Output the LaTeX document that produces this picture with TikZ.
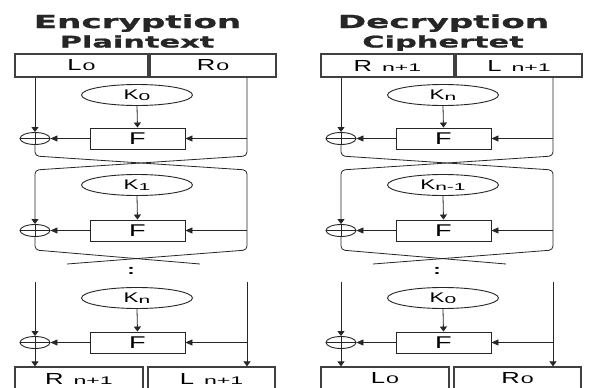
\documentclass[tikz,border=0pt]{standalone}
\usepackage{fontspec}
\usetikzlibrary{shapes.geometric,arrows.meta}
\newfontfamily\ttlfont{DejaVu Sans}[FakeStretch=1.9,FakeBold=1.2]
\newfontfamily\labfont{Liberation Sans}[FakeStretch=1.6]
\newfontfamily\subfont{Liberation Sans}[FakeStretch=2.1]
\newcommand\bxlab[3]{{\labfont\fontsize{16}{16}\selectfont #1}\hspace{#2}{\subfont\fontsize{11}{11}\selectfont #3}}
\newcommand\klab[1]{{\labfont\fontsize{14}{14}\selectfont K}{\subfont\fontsize{10}{10}\selectfont\raisebox{-1.5pt}{#1}}}
\newcommand\flab{{\labfont\fontsize{17}{17}\selectfont F}}
\tikzset{
  ln/.style={line width=0.8pt, black!85},
  blk/.style={draw=black!75, line width=1.2pt, minimum height=23pt, inner sep=0pt},
  fbx/.style={draw=black!85, line width=0.9pt, minimum width=95pt, minimum height=21pt, inner sep=0pt},
  key/.style={draw=black!85, ellipse, line width=0.9pt, minimum width=111pt, minimum height=21pt, inner sep=0pt},
  xor/.style={draw=black!85, ellipse, line width=0.9pt, minimum width=30pt, minimum height=12pt, inner sep=0pt,
    path picture={\draw[line width=0.9pt] (path picture bounding box.north) -- (path picture bounding box.south)
      (path picture bounding box.west) -- (path picture bounding box.east);}},
  va/.style={ln, -{Triangle[length=5pt,width=7pt]}},
  ha/.style={ln, -{Triangle[length=7pt,width=6pt]}},
  ttl/.style={anchor=base, text=black!85},
}
\newcommand\feistelpanel[9]{%
  \node[ttl, font=\ttlfont\bfseries\fontsize{18}{18}\selectfont] (t1) at (137.5,28) {#1};
  \node[ttl, font=\ttlfont\bfseries\fontsize{16}{16}\selectfont] (t2) at (137,47.5) {#2};
  \node[blk, minimum width=133pt] (tl) at (81.5,65.5) {#3};
  \node[blk, minimum width=126pt] (tr) at (213,65.5) {#4};
  \node[key] (k1) at (137,95) {#5};
  \node[fbx] (f1) at (137.5,138.5) {\flab};
  \node[xor] (x1) at (35,138.5) {};
  \node[key] (k2) at (137,185) {#6};
  \node[fbx] (f2) at (137.5,230.5) {\flab};
  \node[xor] (x2) at (35,230.5) {};
  \node[font=\labfont\bfseries\fontsize{14}{14}\selectfont] (dots) at (131,271) {:};
  \node[key] (k3) at (137,298) {#7};
  \node[fbx] (f3) at (137.5,342.5) {\flab};
  \node[xor] (x3) at (35,342.5) {};
  \node[blk, minimum width=128pt] (bl) at (79,378.5) {#8};
  \node[blk, minimum width=127pt] (br) at (211.5,378.5) {#9};
  \coordinate (ra) at (247,138.5);
  \coordinate (rb) at (247,230.5);
  \coordinate (rc) at (247,342.5);
  \coordinate (lt3) at (35,282);
  \coordinate (rt3) at (247,282);
  % round 1
  \draw[va] (tl.south -| x1) -- (x1.north);
  \draw[va, rounded corners=4pt] (tr.south -| ra) -- (247,156) -- (35,170) -- (x2.north);
  \draw[va] (k1.south) -- (f1.north);
  \draw[ha] (ra) -- (f1.east);
  \draw[ha] (f1.west) -- (x1.east);
  \draw[ln, rounded corners=4pt] (x1.south) -- (35,156) -- (247,170) -- (247,250) -- (67,264);
  % round 2
  \draw[va] (k2.south) -- (f2.north);
  \draw[ha] (rb) -- (f2.east);
  \draw[ha] (f2.west) -- (x2.east);
  \draw[ln, rounded corners=4pt] (x2.south) -- (35,250) -- (200,264);
  % round 3
  \draw[va] (lt3) -- (x3.north);
  \draw[va] (k3.south) -- (f3.north);
  \draw[ha] (rc) -- (f3.east);
  \draw[ha] (f3.west) -- (x3.east);
  \draw[va] (x3.south) -- (bl.north -| x3);
  \draw[va] (rt3) -- (br.north -| rt3);
}
\begin{document}
\begin{tikzpicture}[x=1pt,y=-1pt]
\useasboundingbox[fill=white] (0,0) rectangle (590,388);
\begin{scope}[name prefix=E-]
\feistelpanel{Encryption}{Plaintext}{\bxlab{L}{1pt}{0}}{\bxlab{R}{1pt}{0}}{\klab{0}}{\klab{1}}{\klab{n}}{\bxlab{R}{10pt}{n+1}}{\bxlab{L}{10pt}{n+1}}
\end{scope}
\begin{scope}[xshift=306pt, name prefix=D-]
\feistelpanel{Decryption}{Ciphertet}{\bxlab{R}{10pt}{n+1}}{\bxlab{L}{10pt}{n+1}}{\klab{n}}{\klab{n-1}}{\klab{0}}{\bxlab{L}{1pt}{0}}{\bxlab{R}{1pt}{0}}
\end{scope}
\end{tikzpicture}
\end{document}
